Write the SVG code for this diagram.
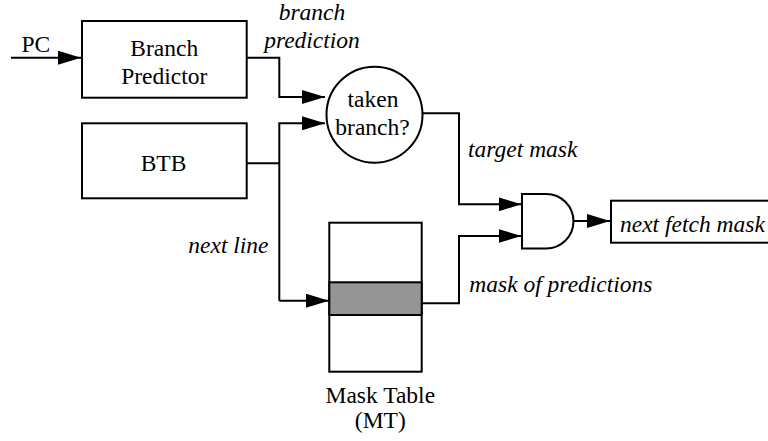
<svg xmlns="http://www.w3.org/2000/svg" width="768" height="441" viewBox="0 0 768 441">
<style>
.box{fill:#fff;stroke:#000;stroke-width:2}
.ln{fill:none;stroke:#000;stroke-width:2}
.t{font-family:"Liberation Serif","Times New Roman",serif;font-size:23.5px;fill:#000}
.i{font-style:italic}
.m{text-anchor:middle}
</style>
<defs>
<marker id="ah" markerUnits="userSpaceOnUse" markerWidth="24" markerHeight="14" refX="23" refY="7" orient="auto" viewBox="0 0 24 14">
<path d="M0,0 L23,7 L0,14 Z" fill="#000"/>
</marker>
</defs>
<rect width="768" height="441" fill="#fff"/>
<g id="connectors">
<path class="ln" d="M11,57.7 H81" marker-end="url(#ah)"/>
<path class="ln" d="M247,57.7 H279.3 V97 H325" marker-end="url(#ah)"/>
<path class="ln" d="M247,163.3 H279.3"/>
<path class="ln" d="M279.3,300.7 V123.3 H325" marker-end="url(#ah)"/>
<path class="ln" d="M279.3,300.7 H329" marker-end="url(#ah)"/>
<path class="ln" d="M423,113.3 H459 V204.3 H521.5" marker-end="url(#ah)"/>
<path class="ln" d="M421.7,303.3 H459 V236 H521.5" marker-end="url(#ah)"/>
<path class="ln" d="M573.3,221 H610" marker-end="url(#ah)"/>
</g>
<g id="pc-label"><text class="t" x="21.5" y="52.3">PC</text></g>
<g id="branch-predictor">
<rect class="box" x="82" y="21" width="164.7" height="76.7"/>
<text class="t m" x="164.3" y="55.7">Branch</text>
<text class="t m" x="164.3" y="84.3">Predictor</text>
</g>
<g id="btb">
<rect class="box" x="82" y="123.3" width="164.7" height="75"/>
<text class="t m" x="163.5" y="170.7">BTB</text>
</g>
<g id="branch-prediction-label">
<text class="t i m" x="312" y="20">branch</text>
<text class="t i m" x="312" y="48">prediction</text>
</g>
<g id="taken-branch">
<circle class="box" cx="374.5" cy="114.7" r="48"/>
<text class="t m" x="373" y="106.7">taken</text>
<text class="t m" x="372.5" y="135">branch?</text>
</g>
<g id="target-mask-label"><text class="t i" x="468" y="156.7">target mask</text></g>
<g id="and-gate">
<path class="box" d="M522,194 H546.3 A27.2,27.2 0 0 1 546.3,248.4 H522 Z"/>
</g>
<g id="next-fetch-mask">
<rect class="box" x="611" y="200.7" width="170" height="42"/>
<text class="t i" x="620" y="231.7">next fetch mask</text>
</g>
<g id="next-line-label"><text class="t i" x="188.3" y="252.7">next line</text></g>
<g id="mask-of-predictions-label"><text class="t i" x="469.3" y="291.7">mask of predictions</text></g>
<g id="mask-table">
<rect class="box" x="329.3" y="222.7" width="92.4" height="149"/>
<rect x="329.3" y="282.3" width="92.4" height="32.7" fill="#959595" stroke="#000" stroke-width="2"/>
<text class="t m" x="380.3" y="402.7">Mask Table</text>
<text class="t m" x="380.3" y="428.3">(MT)</text>
</g>
</svg>
